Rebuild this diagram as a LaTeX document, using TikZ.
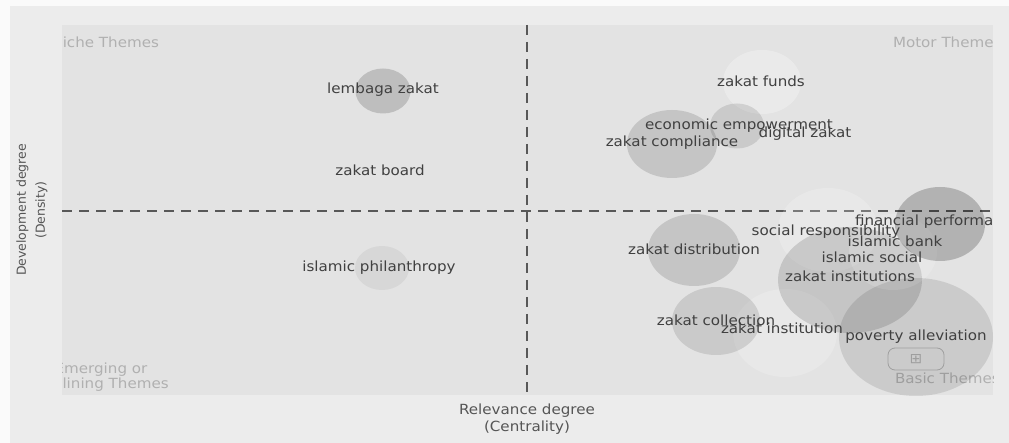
\documentclass[tikz,border=0pt]{standalone}
\usepackage{fontspec}
\setmainfont{DejaVu Sans}[FakeStretch=1.08]
\newfontfamily\uprightlabel{DejaVu Sans}
\usetikzlibrary{shapes.geometric}
\definecolor{pagebg}{HTML}{FAFAFA}
\definecolor{panelbg}{HTML}{ECECEC}
\definecolor{plotbg}{HTML}{E3E3E3}
\definecolor{labelink}{HTML}{404040}
\definecolor{quadink}{HTML}{B0B0B0}
\definecolor{axisink}{HTML}{555555}
\definecolor{divider}{HTML}{585858}
\begin{document}
\begin{tikzpicture}[x=1pt,y=-1pt,
  every node/.style={inner sep=0pt, outer sep=0pt},
  txt/.style={font=\fontsize{14}{15}\selectfont, text=labelink},
  quad/.style={font=\fontsize{14}{15}\selectfont, text=quadink, align=center},
  axislbl/.style={font=\fontsize{14}{17}\selectfont, text=axisink, align=center},
  bubble/.style={ellipse, draw=none, fill=black, fill opacity=#1},
  lightbubble/.style={ellipse, draw=none, fill=white, fill opacity=#1},
  divline/.style={draw=divider, line width=2.2pt, dash pattern=on 10pt off 7pt}]

\useasboundingbox (0,0) rectangle (1009,443);
\fill[pagebg] (0,0) rectangle (1009,443);
\fill[panelbg] (10,6) rectangle (1009,443);
\fill[plotbg] (62,25) rectangle (993,395);

\begin{scope}
\clip (62,25) rectangle (993,395);

% quadrant captions
\node[quad, anchor=east] (niche) at (159,42) {Niche Themes};
\node[quad, anchor=west] (motor) at (893,42) {Motor Themes};
\node[quad] (emerging) at (101,377) {Emerging or\\Declining Themes};
\node[quad, anchor=west] (basic) at (895,378) {Basic Themes};
\node[draw=quadink, line width=0.8pt, rounded corners=7pt, minimum width=56pt, minimum height=22pt] (basicicon) at (916,359) {};
\node[font=\fontsize{14}{14}\selectfont, text=quadink] (basicglyph) at (916,359) {⊞};

% divider lines
\coordinate (vtop) at (527,25);
\coordinate (vbot) at (527,395);
\coordinate (hleft) at (62,211);
\coordinate (hright) at (993,211);
\draw[divline] (vtop) -- (vbot);
\draw[divline] (hleft) -- (hright);

% theme bubbles
\node[bubble=0.16, minimum width=55pt, minimum height=45pt] (b-lembaga) at (383,91) {};
\node[bubble=0.05, minimum width=54pt, minimum height=44pt] (b-philanthropy) at (382,268) {};
\node[lightbubble=0.28, minimum width=78pt, minimum height=64pt] (b-funds) at (762,82) {};
\node[bubble=0.11, minimum width=54pt, minimum height=45pt] (b-digital) at (737,126) {};
\node[bubble=0.13, minimum width=90pt, minimum height=68pt] (b-compliance) at (672,144) {};
\node[bubble=0.13, minimum width=92pt, minimum height=72pt] (b-distribution) at (694,250) {};
\node[lightbubble=0.18, minimum width=104pt, minimum height=88pt] (b-institution) at (785,333) {};
\node[bubble=0.11, minimum width=88pt, minimum height=68pt] (b-collection) at (716,321) {};
\node[lightbubble=0.20, minimum width=100pt, minimum height=84pt] (b-social-resp) at (828,230) {};
\node[bubble=0.13, minimum width=144pt, minimum height=106pt] (b-institutions) at (850,280) {};
\node[lightbubble=0.15, minimum width=88pt, minimum height=76pt] (b-islamic-social) at (893,252) {};
\node[bubble=0.21, minimum width=90pt, minimum height=74pt] (b-financial) at (940,224) {};
\node[bubble=0.10, minimum width=154pt, minimum height=118pt] (b-poverty) at (916,337) {};

% theme labels
\node[txt] (lembaga) at (383,90) {lembaga zakat};
\node[txt] (board) at (380,170) {zakat board};
\node[txt] (philanthropy) at (379,268) {islamic philanthropy};
\node[txt] (funds) at (761,81) {zakat funds};
\node[txt] (empowerment) at (739,126) {economic empowerment};
\node[txt] (digital) at (805,134) {digital zakat};
\node[txt] (compliance) at (672,143) {zakat compliance};
\node[txt] (distribution) at (694,249) {zakat distribution};
\node[txt] (socialresp) at (826,232) {social responsibility};
\node[txt, anchor=west] (financial) at (855,222) {financial performance};
\node[txt] (bank) at (895,241) {islamic bank};
\node[txt] (islamicsocial) at (872,257) {islamic social};
\node[txt] (institutions) at (850,276) {zakat institutions};
\node[txt] (collection) at (716,320) {zakat collection};
\node[txt] (institution) at (782,328) {zakat institution};
\node[txt] (poverty) at (916,337) {poverty alleviation};
\end{scope}

% axis titles
\node[axislbl] (xtitle) at (527,419) {Relevance degree\\(Centrality)};
\node[axislbl, font=\uprightlabel\fontsize{12.5}{19}\selectfont, rotate=90] (ytitle) at (32,210) {Development degree\\(Density)};
\end{tikzpicture}
\end{document}
